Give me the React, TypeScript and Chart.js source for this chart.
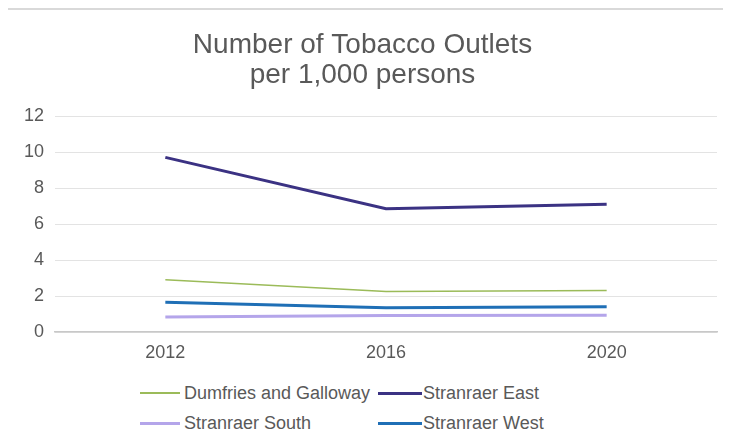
import React, { useEffect, useRef } from "react";
import { Chart, registerables } from "chart.js";

Chart.register(...registerables);

const years = ["2012", "2016", "2020"];
const dumfriesAndGalloway = [2.9, 2.25, 2.3];
const stranraerEast = [9.7, 6.85, 7.1];
const stranraerSouth = [0.83, 0.92, 0.93];
const stranraerWest = [1.65, 1.35, 1.4];
const titleLines = ["Number of Tobacco Outlets", "per 1,000 persons"];

const seriesNames = ["Dumfries and Galloway", "Stranraer East", "Stranraer South", "Stranraer West"];
const seriesColors = ["#9bbb59", "#3b3283", "#b4a5ea", "#1f6fb6"];
const seriesWidths = [1.5, 3, 3, 3];
const seriesData = [dumfriesAndGalloway, stranraerEast, stranraerSouth, stranraerWest];

const FONT = "'Liberation Sans', Arial, sans-serif";
const TEXT = "#595959";

export default function App() {
  const ref = useRef<HTMLCanvasElement | null>(null);

  useEffect(() => {
    if (!ref.current) return;
    const chart = new Chart(ref.current, {
      type: "line",
      data: {
        labels: years,
        datasets: seriesNames.map((name, i) => ({
          label: name,
          data: seriesData[i],
          borderColor: seriesColors[i],
          backgroundColor: seriesColors[i],
          borderWidth: seriesWidths[i],
          pointRadius: 0,
          tension: 0,
          fill: false,
        })),
      },
      options: {
        animation: false,
        responsive: false,
        maintainAspectRatio: false,
        layout: { padding: { left: 0, right: 26, top: 0, bottom: 0 } },
        plugins: {
          legend: { display: false },
          tooltip: { enabled: false },
          title: {
            display: true,
            text: titleLines,
            color: TEXT,
            font: { family: FONT, size: 28, weight: "normal", lineHeight: 30 / 28 },
            padding: { top: 20, bottom: 26 },
          },
        },
        scales: {
          x: {
            offset: true,
            grid: { display: false, drawTicks: false },
            border: { display: true, color: "#c8c8c8", width: 1.5 },
            ticks: { color: TEXT, font: { family: FONT, size: 18 }, padding: 10 },
            afterFit: (s: any) => {
              s.height = 40;
            },
          },
          y: {
            min: 0,
            max: 12,
            ticks: { stepSize: 2, color: TEXT, font: { family: FONT, size: 18 }, padding: 11 },
            grid: { color: "#e3e3e3", drawTicks: false, lineWidth: 1 },
            border: { display: false },
            afterFit: (s: any) => {
              s.width = 47;
            },
          },
        },
      },
    });
    return () => chart.destroy();
  }, []);

  const legendItem = (i: number) => (
    <div style={{ display: "flex", alignItems: "center", height: 30 }}>
      <div
        style={{
          width: i % 2 === 0 ? 40 : 44,
          height: seriesWidths[i],
          background: seriesColors[i],
          marginRight: i % 2 === 0 ? 4 : 1,
        }}
      />
      <span style={{ fontFamily: FONT, fontSize: 18, color: TEXT, whiteSpace: "nowrap" }}>
        {seriesNames[i]}
      </span>
    </div>
  );

  return (
    <div
      style={{
        marginLeft: -2,
        width: 725,
        height: 427,
        boxSizing: "border-box",
        borderTop: "2px solid #d9d9d9",
        borderLeft: "2px solid #d9d9d9",
        overflow: "hidden",
        background: "#fff",
        position: "relative",
      }}
    >
      <canvas ref={ref} width={735} height={362} style={{ display: "block" }} />
      <div style={{ position: "absolute", left: 132, top: 368, display: "grid", gridTemplateColumns: "238px auto" }}>
        {legendItem(0)}
        {legendItem(1)}
        {legendItem(2)}
        {legendItem(3)}
      </div>
    </div>
  );
}
